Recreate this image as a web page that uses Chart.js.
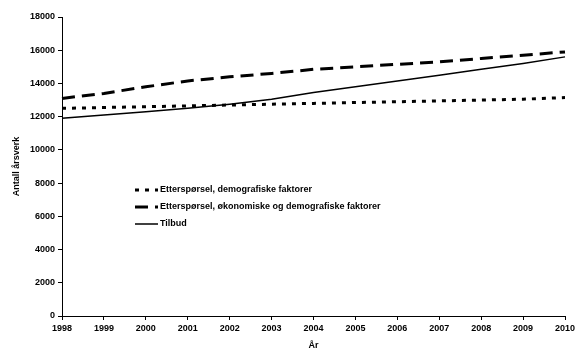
<!DOCTYPE html>
<html>
<head>
<meta charset="utf-8">
<script src="https://cdn.jsdelivr.net/npm/chart.js@4/dist/chart.umd.min.js"></script>
<style>
html,body{margin:0;padding:0;background:#fff;}
#wrap{position:relative;width:583px;height:363px;}
</style>
</head>
<body>
<div id="wrap"><canvas id="c" width="583" height="363"></canvas></div>
<script>
const years = ['1998','1999','2000','2001','2002','2003','2004','2005','2006','2007','2008','2009','2010'];
const demografisk = [12500,12550,12600,12650,12700,12750,12800,12850,12900,12950,13000,13050,13150];
const okonomisk = [13100,13400,13800,14150,14400,14600,14850,15000,15150,15300,15500,15700,15900];
const tilbud = [11900,12100,12300,12500,12750,13050,13450,13800,14150,14500,14850,15200,15600];
const seriesLabels = ['Etterspørsel, demografiske faktorer','Etterspørsel, økonomiske og demografiske faktorer','Tilbud'];
const yTitle = 'Antall årsverk';
const xTitle = 'År';

const FONT = 'Liberation Sans, Arial, sans-serif';

const legendPlugin = {
  id: 'inLegend',
  afterDraw(chart) {
    const ctx = chart.ctx;
    const rows = [190, 207, 224];
    chart.data.datasets.forEach((ds, i) => {
      const y = rows[i];
      ctx.save();
      ctx.strokeStyle = '#000';
      ctx.lineWidth = ds.borderWidth;
      ctx.setLineDash(ds.borderDash || []);
      ctx.beginPath();
      ctx.moveTo(135, y);
      ctx.lineTo(158, y);
      ctx.stroke();
      ctx.setLineDash([]);
      ctx.fillStyle = '#000';
      ctx.font = 'bold 9px ' + FONT;
      ctx.textBaseline = 'middle';
      ctx.fillText(ds.label, 160, y);
      ctx.restore();
    });
  }
};

new Chart(document.getElementById('c'), {
  type: 'line',
  data: {
    labels: years,
    datasets: [
      {label: seriesLabels[0], data: demografisk, borderColor:'#000', borderWidth:3, borderDash:[4,6], pointRadius:0, tension:0, fill:false, borderCapStyle:'butt'},
      {label: seriesLabels[1], data: okonomisk, borderColor:'#000', borderWidth:3, borderDash:[13,7], pointRadius:0, tension:0, fill:false, borderCapStyle:'butt'},
      {label: seriesLabels[2], data: tilbud, borderColor:'#000', borderWidth:1.5, pointRadius:0, tension:0, fill:false}
    ]
  },
  options: {
    responsive: false,
    animation: false,
    devicePixelRatio: 1,
    layout: {padding: {top: 17, right: 18, left: 11, bottom: 12}},
    plugins: {legend: {display: false}, tooltip: {enabled: false}},
    scales: {
      x: {
        type: 'category',
        offset: false,
        grid: {display: true, drawOnChartArea: false, drawTicks: true, tickLength: 4, color: '#000', lineWidth: 1},
        border: {color: '#000', width: 1},
        ticks: {color: '#000', font: {family: FONT, size: 9, weight: 'bold'}, maxRotation: 0, autoSkip: false, padding: 3},
        title: {display: true, text: xTitle, color: '#000', font: {family: FONT, size: 9, weight: 'bold'}, padding: {top: 2, bottom: 0}},
        afterFit: (s) => { s.height = 35; }
      },
      y: {
        min: 0, max: 18000,
        grid: {display: true, drawOnChartArea: false, drawTicks: true, tickLength: 4, color: '#000', lineWidth: 1},
        border: {color: '#000', width: 1},
        ticks: {stepSize: 2000, color: '#000', font: {family: FONT, size: 9, weight: 'bold'}, padding: 3,
          callback: (v) => String(v)},
        title: {display: true, text: yTitle, color: '#000', font: {family: FONT, size: 9, weight: 'bold'}, padding: {top: 0, bottom: 4}},
        afterFit: (s) => { s.width = 51; }
      }
    }
  },
  plugins: [legendPlugin]
});
</script>
</body>
</html>
